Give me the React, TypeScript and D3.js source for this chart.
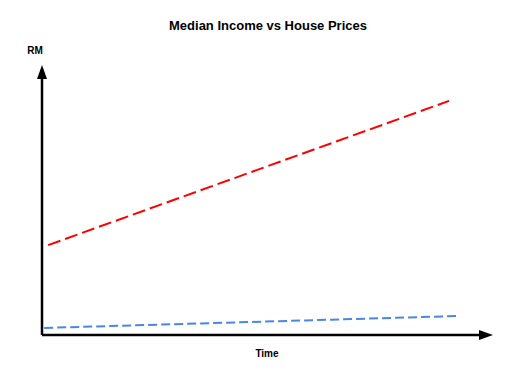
import * as d3 from 'd3';
import React from 'react';

// time positions (0..100) and values in RM (0..100) for the two series
const housePriceTime = [1.4, 92.5];
const housePriceValues = [33.3, 86.7];
const incomeTime = [0.5, 94.1];
const incomeValues = [2.6, 7.0];

const title = 'Median Income vs House Prices';
const yLabel = 'RM';
const xLabel = 'Time';

const App = () => {
  const width = 512, height = 384;
  const x0 = 42, y0 = 335;

  const x = d3.scaleLinear().domain([0, 100]).range([x0, 482]);
  const y = d3.scaleLinear().domain([0, 100]).range([y0, 65]);

  const line = d3.line<[number, number]>()
    .x(d => x(d[0]))
    .y(d => y(d[1]));

  const house = housePriceTime.map((t, i) => [t, housePriceValues[i]] as [number, number]);
  const income = incomeTime.map((t, i) => [t, incomeValues[i]] as [number, number]);

  const font = '"Liberation Sans", Arial, sans-serif';

  return (
    <svg width={width} height={height} style={{ position: 'absolute', left: 0, top: 0 }}>
      <rect width={width} height={height} fill="white" />
      <text x={268} y={30} textAnchor="middle" fontFamily={font} fontWeight="bold" fontSize={13}>{title}</text>
      <text x={35} y={54} textAnchor="middle" fontFamily={font} fontWeight="bold" fontSize={10}>{yLabel}</text>
      <text x={267} y={357} textAnchor="middle" fontFamily={font} fontWeight="bold" fontSize={10}>{xLabel}</text>

      {/* axes */}
      <line x1={x0} y1={y0} x2={x0} y2={78} stroke="black" strokeWidth={2.5} />
      <path d={`M${x0},65 L${x0 - 5},79 L${x0 + 5},79 Z`} fill="black" />
      <line x1={x0} y1={y0} x2={480} y2={y0} stroke="black" strokeWidth={2.5} />
      <path d={`M493,${y0} L479,${y0 - 5} L479,${y0 + 5} Z`} fill="black" />

      <path d={line(house) ?? ''} fill="none" stroke="#ff0000" strokeWidth={2} strokeDasharray="13,5" />
      <path d={line(income) ?? ''} fill="none" stroke="#4a86e8" strokeWidth={2} strokeDasharray="9,4" />
    </svg>
  );
};

export default App;
